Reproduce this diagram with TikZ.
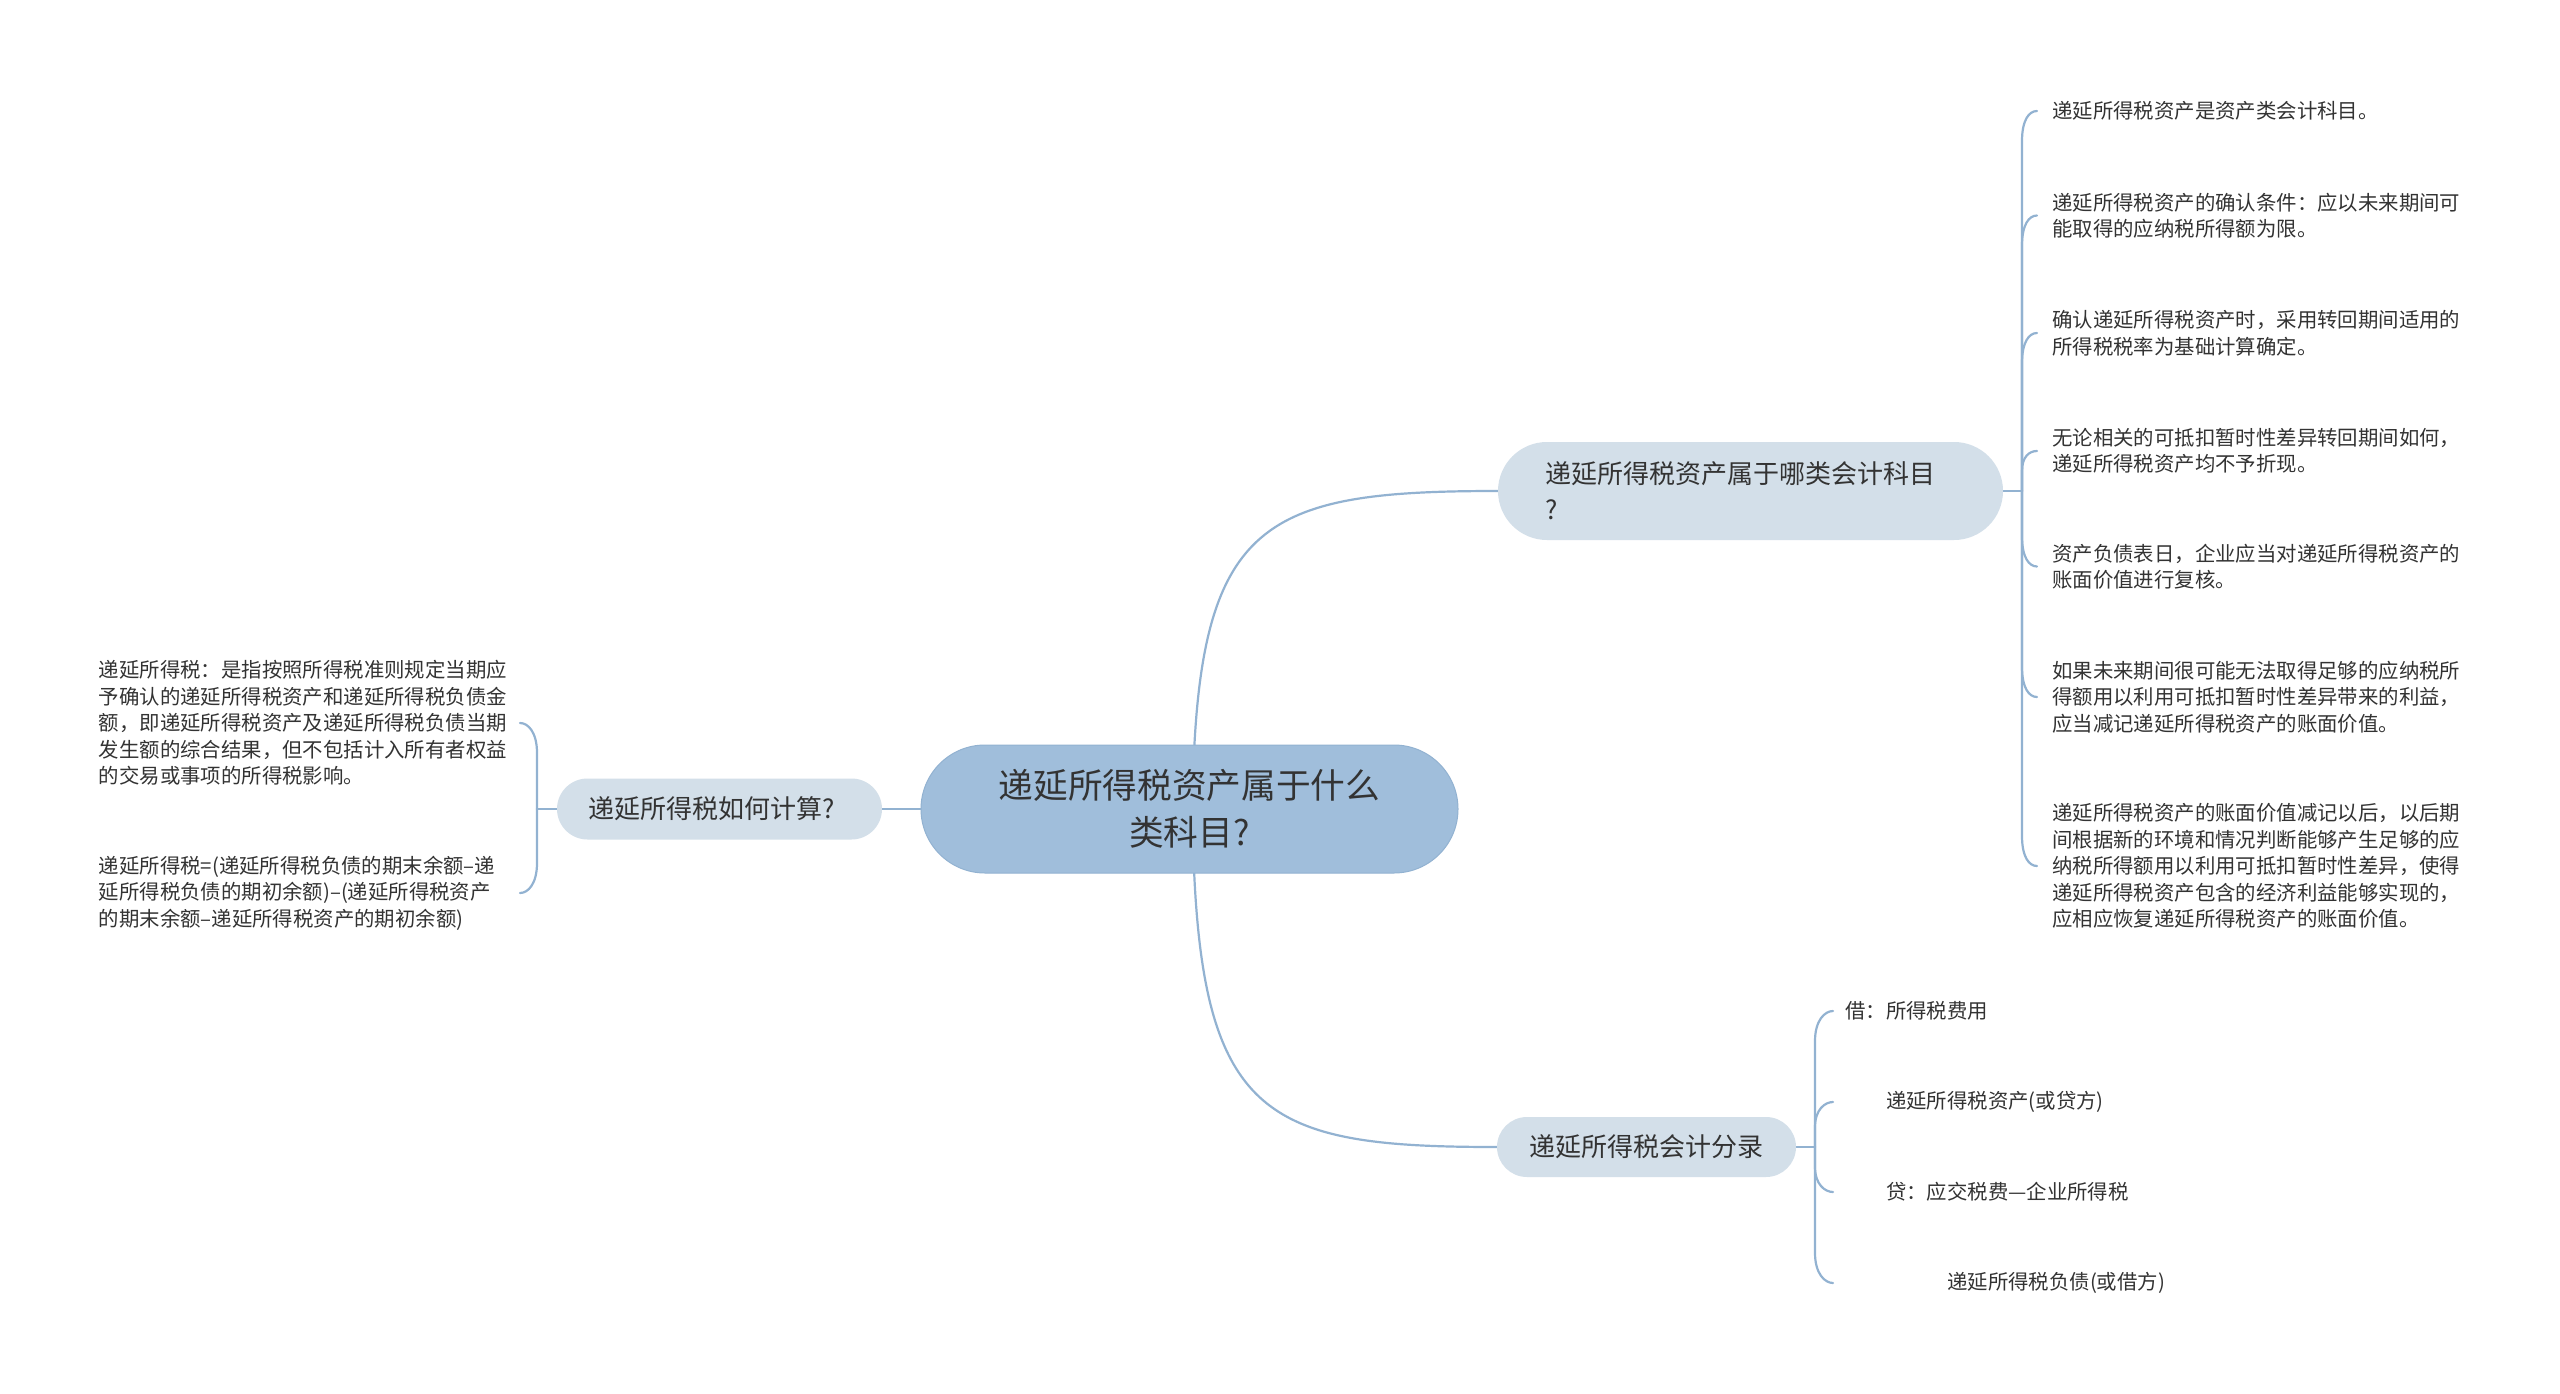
\documentclass[tikz,border=0pt]{standalone}
\usepackage{fontspec}
\setmainfont{Noto Sans CJK SC}
\usetikzlibrary{shapes.misc,backgrounds}
\definecolor{lineblue}{HTML}{92B2D1}
\definecolor{rootfill}{HTML}{A0BEDB}
\definecolor{subfill}{HTML}{D3DFE9}
\definecolor{txt}{HTML}{333333}
\tikzset{
  conn/.style={draw=lineblue, line width=2.2pt, line cap=round},
  rootnode/.style={rounded rectangle, fill=rootfill, draw=lineblue, line width=1pt,
    minimum width=537pt, minimum height=128pt, align=center, text=txt,
    font=\fontsize{34.7}{47}\selectfont, inner sep=0pt},
  subnode/.style={rounded rectangle, fill=subfill, draw=none, text=txt,
    font=\fontsize{26}{36}\selectfont, inner sep=0pt},
  leaf/.style={text=txt, font=\fontsize{20.4}{26.5}\selectfont, align=left,
    inner xsep=15pt, inner ysep=0pt},
}
% #1 junction, #2 end point, #3 canvas yshift where the straight part ends, #4 xshift of second control
\newcommand\mmhook[4]{%
  \draw[conn] (#1) -- ([yshift=#3]#1 |- #2)
    .. controls ([yshift=#3*0.3]#1 |- #2) and ([xshift=#4]#2) .. (#2);}
\begin{document}
\begin{tikzpicture}[x=1pt,y=-1pt]
\useasboundingbox (0,0) rectangle (2560,1394);

% root and branches
\node[rootnode] (root) at (1189.5,809) {递延所得税资产属于什么\\类科目?};
\node[subnode, minimum width=505pt, minimum height=98pt, text width=410pt, align=left]
  (b1) at (1750.5,491) {递延所得税资产属于哪类会计科目\\?};
\node[subnode, minimum width=325pt, minimum height=61pt, text width=263pt, align=left]
  (b2) at (719.5,809) {递延所得税如何计算?};
\node[subnode, minimum width=299pt, minimum height=60pt, align=center]
  (b3) at (1646.5,1147) {递延所得税会计分录};

% junctions
\coordinate (J1) at (2022,491);
\coordinate (J2) at (537,809);
\coordinate (J3) at (1815,1147);

% right leaves of b1
\node[leaf, anchor=west] (c1) at (2037,111) {递延所得税资产是资产类会计科目。};
\node[leaf, anchor=west] (c2) at (2037,215.5) {递延所得税资产的确认条件：应以未来期间可\\能取得的应纳税所得额为限。};
\node[leaf, anchor=west] (c3) at (2037,333) {确认递延所得税资产时，采用转回期间适用的\\所得税税率为基础计算确定。};
\node[leaf, anchor=west] (c4) at (2037,451) {无论相关的可抵扣暂时性差异转回期间如何，\\递延所得税资产均不予折现。};
\node[leaf, anchor=west] (c5) at (2037,566.5) {资产负债表日，企业应当对递延所得税资产的\\账面价值进行复核。};
\node[leaf, anchor=west] (c6) at (2037,697) {如果未来期间很可能无法取得足够的应纳税所\\得额用以利用可抵扣暂时性差异带来的利益，\\应当减记递延所得税资产的账面价值。};
\node[leaf, anchor=west] (c7) at (2037,866) {递延所得税资产的账面价值减记以后，以后期\\间根据新的环境和情况判断能够产生足够的应\\纳税所得额用以利用可抵扣暂时性差异，使得\\递延所得税资产包含的经济利益能够实现的，\\应相应恢复递延所得税资产的账面价值。};

% left leaves of b2
\node[leaf, anchor=east, text width=409pt, inner xsep=12pt] (a1) at (520,723) {递延所得税：是指按照所得税准则规定当期应\\予确认的递延所得税资产和递延所得税负债金\\额，即递延所得税资产及递延所得税负债当期\\发生额的综合结果，但不包括计入所有者权益\\的交易或事项的所得税影响。};
\node[leaf, anchor=east, text width=409pt, inner xsep=12pt] (a2) at (520,893) {递延所得税=(递延所得税负债的期末余额–递\\延所得税负债的期初余额)–(递延所得税资产\\的期末余额–递延所得税资产的期初余额)};

% leaves of b3
\node[leaf, anchor=west, inner xsep=12pt] (d1) at (1833,1011) {借：所得税费用};
\node[leaf, anchor=west, inner xsep=12pt] (d2) at (1833,1102) {\hspace*{2em}递延所得税资产(或贷方)};
\node[leaf, anchor=west, inner xsep=12pt] (d3) at (1833,1192) {\hspace*{2em}贷：应交税费—企业所得税};
\node[leaf, anchor=west, inner xsep=12pt] (d4) at (1833,1283) {\hspace*{5em}递延所得税负债(或借方)};

\begin{pgfonlayer}{background}
  \fill[white] (0,0) rectangle (2560,1394);
  % root to branches
  \draw[conn] ([xshift=3pt]root.center) .. controls ([xshift=6pt,yshift=-30pt]root.center |- b1.west)
    and ([xshift=-240pt]b1.west) .. (b1.west);
  \draw[conn] ([xshift=3pt]root.center) .. controls ([xshift=6pt,yshift=30pt]root.center |- b3.west)
    and ([xshift=-240pt]b3.west) .. (b3.west);
  \draw[conn] (root.west) -- (b2.east);
  % stubs
  \draw[conn] (b1.east) -- (J1);
  \draw[conn] (b2.west) -- (J2);
  \draw[conn] (b3.east) -- (J3);
\end{pgfonlayer}

% brackets to leaves
\mmhook{J1}{c1.west}{-30pt}{-8pt}
\mmhook{J1}{c2.west}{-30pt}{-8pt}
\mmhook{J1}{c3.west}{-30pt}{-8pt}
\mmhook{J1}{c4.west}{-20pt}{-8pt}
\mmhook{J1}{c5.west}{30pt}{-8pt}
\mmhook{J1}{c6.west}{30pt}{-8pt}
\mmhook{J1}{c7.west}{30pt}{-8pt}
\mmhook{J2}{a1.east}{-30pt}{8pt}
\mmhook{J2}{a2.east}{30pt}{8pt}
\mmhook{J3}{d1.west}{-30pt}{-8pt}
\mmhook{J3}{d2.west}{-25pt}{-8pt}
\mmhook{J3}{d3.west}{25pt}{-8pt}
\mmhook{J3}{d4.west}{30pt}{-8pt}
\end{tikzpicture}
\end{document}
